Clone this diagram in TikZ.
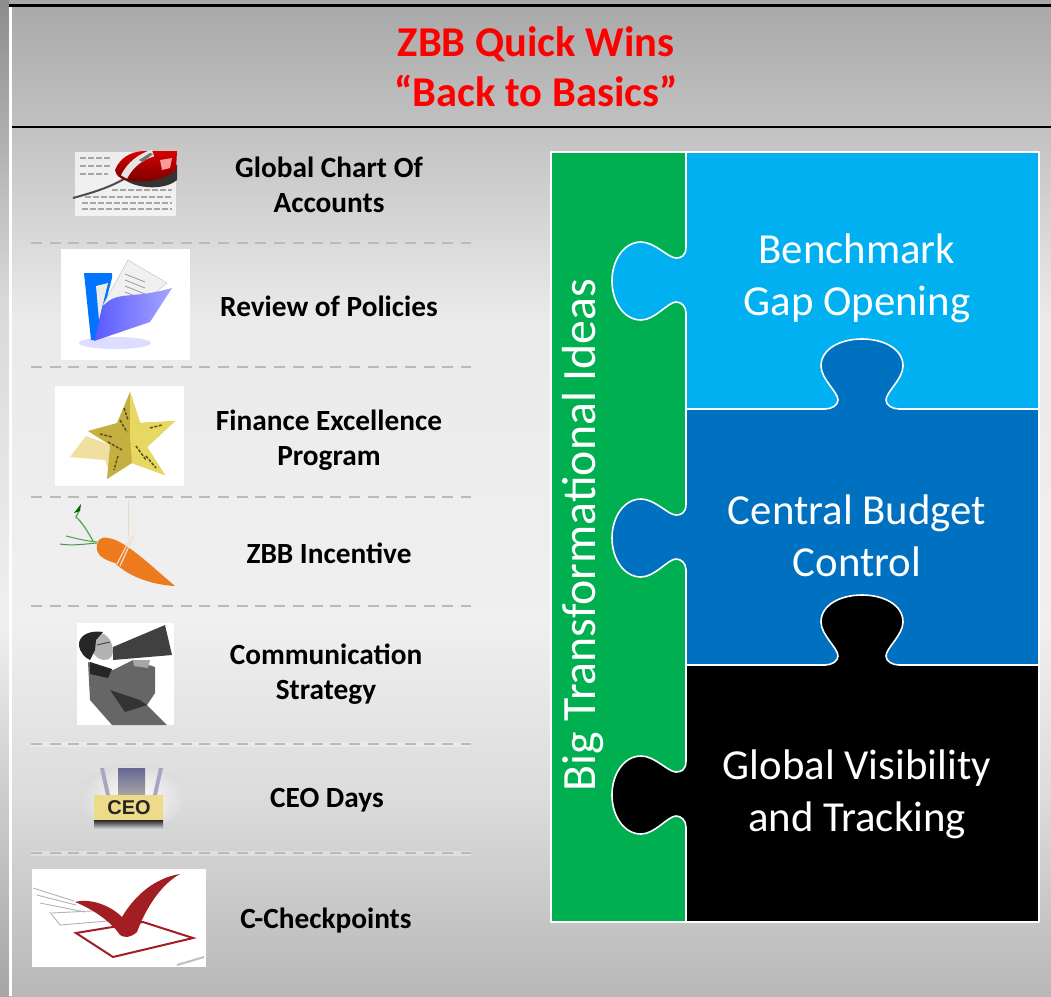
\documentclass[tikz,border=0pt]{standalone}
\usepackage{fontspec}
\setmainfont{Carlito}
\newfontfamily\platefont{Liberation Sans}
\usepackage{tikz}
\usetikzlibrary{calc,positioning}

\definecolor{zbbgreen}{HTML}{00B050}
\definecolor{zbbcyan}{HTML}{00B0F0}
\definecolor{zbbblue}{HTML}{0070C0}
\definecolor{zbbred}{HTML}{FF0000}
\definecolor{tickred}{HTML}{A31E22}
\definecolor{stargold}{HTML}{C4B040}
\definecolor{starlight}{HTML}{E6D860}
\definecolor{carrot}{HTML}{EE7A1E}

\tikzset{
  piece/.style={draw=white,line width=1.6pt,line join=round},
  tightwords/.style={execute at begin node={\spaceskip=.226em\relax}},
  itemtext/.style={text width=10cm,text centered,tightwords,font=\fontsize{29.3}{35}\selectfont\bfseries},
  titletext/.style={text width=14cm,text centered,tightwords,text=zbbred,font=\fontsize{42.5}{50}\selectfont\bfseries},
  puzzletext/.style={text width=11cm,text centered,tightwords,text=white,font=\fontsize{42.8}{52}\selectfont},
  sepline/.style={draw=black!27,line width=2pt,dash pattern=on 11pt off 7.7pt}
}

% tab on the left side of a puzzle piece, going down
\newcommand{\tableft}[1]{-- (686,#1-33)
  .. controls (686,#1-24) and (681,#1-22) .. (676,#1-22)
  .. controls (668,#1-22) and (655,#1-38) .. (641,#1-38)
  .. controls (624,#1-38) and (612,#1-20) .. (612,#1+1)
  .. controls (612,#1+22) and (624,#1+40) .. (641,#1+40)
  .. controls (655,#1+40) and (668,#1+22) .. (676,#1+22)
  .. controls (681,#1+22) and (686,#1+26) .. (686,#1+33)}
% tab on the top side of a puzzle piece, going left
\newcommand{\tabtop}[1]{-- (899,#1)
  .. controls (892,#1) and (886,#1-4) .. (886,#1-9)
  .. controls (886,#1-17) and (903,#1-30) .. (903,#1-43)
  .. controls (903,#1-60) and (884,#1-70) .. (862,#1-70)
  .. controls (840,#1-70) and (821,#1-60) .. (821,#1-43)
  .. controls (821,#1-30) and (838,#1-17) .. (838,#1-9)
  .. controls (838,#1-4) and (832,#1) .. (825,#1)}

\begin{document}
\begin{tikzpicture}[x=1pt,y=-1pt]
\useasboundingbox (0,0) rectangle (1051,996);

% background
\foreach \ya/\yb/\ca/\cb in {0/130/black!34/black!24, 129/320/black!24/black!8, 319/620/black!8/black!6, 619/800/black!6/black!14, 799/996/black!14/black!28}
  \shade [top color=\ca,bottom color=\cb] (0,\ya) rectangle (1051,\yb);
\foreach \ya/\yb/\ca/\cb in {0/300/black!45/black!15, 299/620/black!15/black!6, 619/996/black!6/black!35}
  \shade [top color=\ca,bottom color=\cb] (0,\ya) rectangle (9,\yb);
\fill [white] (9,7) rectangle (12,996);
\draw [line width=3pt] (9,5) -- (1051,5);
\draw [line width=2.5pt] (12,127) -- (1051,127);

% title
\node (title) [titletext] at (536,67) {ZBB Quick Wins\\“Back to Basics”};

% separators
\foreach \ypos in {744,853}
  \draw [white,opacity=.3,line width=5pt] (31,\ypos) -- (471,\ypos);
\foreach \ypos in {243,367,497,606,744,853}
  \draw [sepline] (31,\ypos) -- (471,\ypos);

% items
\node (chart) [itemtext] at (329,184.5) {Global Chart Of\\Accounts};
\node (review) [itemtext] at (329,306) {Review of Policies};
\node (finance) [itemtext] at (329,440) {Finance Excellence\\Program};
\node (incentive) [itemtext] at (329,553) {ZBB Incentive};
\node (comm) [itemtext] at (326,674.5) {Communication\\Strategy};
\node (ceodays) [itemtext] at (327,800.5) {CEO Days};
\node (check) [itemtext] at (326,920.5) {C-Checkpoints};

% mouse on a sheet
\fill [white,opacity=.7] (75,152) rectangle (176,216);
\foreach \ypos/\xa/\xb in {158/80/112,166/80/110,174/80/108,190/112/172,197/85/172,203/82/172,209/82/172}
  \draw [black!35,line width=1.2pt,dash pattern=on 6pt off 2pt] (\xa,\ypos) -- (\xb,\ypos);
\draw [black!70,line width=2pt] (73,198) .. controls (95,192) and (110,187) .. (124,179);
\fill [black!80] (118,172) .. controls (122,186) and (160,194) .. (177,180) -- (177,165) -- cycle;
\shade [top color=red!85!black,bottom color=red!45!black] (115,170) .. controls (120,158) and (130,152) .. (143,151) -- (177,151) -- (176,170) .. controls (165,180) and (145,184) .. (125,180) .. controls (120,178) and (116,176) .. cycle;
\draw [black!10,line width=7pt] (124,177) .. controls (130,165) and (140,157) .. (153,153);
\fill [black!55] (139,160) -- (150,153) -- (153,154) -- (143,162) -- cycle;
\fill [red!40!white] (160,160) -- (172,158) -- (170,168) -- (162,170) -- cycle;

% folder
\fill [white] (61,249) rectangle (190,360);
\fill [blue!22!white,opacity=.6] (115,343) ellipse (36 and 6);
\fill [blue!55!cyan] (84,273) -- (112,273) -- (112,278) -- (96,340) -- (91,340) -- cycle;
\fill [black!8] (96,286) -- (108,283) -- (99,320) -- cycle;
\draw [fill=black!6,draw=black!25] (103,305) -- (128,260) -- (167,283) -- (140,305) -- cycle;
\foreach \ypos in {268,274,280,286}
  \draw [black!40,line width=.8pt] (125,\ypos+6) -- (145,\ypos+14);
\shade [left color=blue!65!white,right color=blue!35!white] (94,341) -- (103,306) .. controls (118,290) and (130,300) .. (172,288) -- (150,322) -- cycle;

% star
\fill [white] (55,386) rectangle (184,486);
\fill [yellow!45!brown!45!white] (70,457) -- (86,436) -- (110,445) -- (108,468) -- (105,460) -- cycle;
\fill [stargold] (130,392) -- (140,423) -- (175,421) -- (147,447) -- (165,475) -- (132,463) -- (107,479) -- (110,445) -- (88,431) -- (117,423) -- cycle;
\fill [starlight] (130,437) -- (140,423) -- (175,421) -- (147,447) -- (165,475) -- (132,463) -- cycle;
\fill [starlight] (130,392) -- (130,437) -- (140,423) -- cycle;
\foreach \xa/\ya/\xb/\yb in {124/408/128/420,120/420/127/432,100/434/112/437,108/442/122/450,118/456/114/470,146/456/156/468,136/446/146/460,150/428/162/425}
  \draw [black!55!stargold,line width=1.5pt,dash pattern=on 3pt off 1.5pt] (\xa,\ya) -- (\xb,\yb);

% carrot on a string
\draw [brown!30!white,line width=1pt] (128,500) -- (128,537);
\draw [green!40!black!70,line width=1pt] (97,543) .. controls (85,544) and (72,546) .. (60,544);
\draw [green!50!black!70,line width=1pt] (97,542) .. controls (85,541) and (75,538) .. (66,536);
\draw [green!50!black!70,line width=1.2pt] (93,541) .. controls (88,532) and (82,522) .. (76,517) -- (79,511);
\fill [green!40!black] (74,513) -- (81,504) -- (80,511) -- cycle;
\fill [carrot] (97,550) .. controls (96,541) and (100,536) .. (108,538) .. controls (125,540) and (150,565) .. (175,586) .. controls (155,585) and (130,578) .. (115,563) .. controls (105,560) and (98,556) .. cycle;
\draw [brown!25!white,line width=1.2pt] (117,564) -- (131,537);
\draw [brown!25!white,line width=1.2pt] (120,566) -- (134,535);

% man with a megaphone
\fill [white] (77,623) rectangle (174,725);
\fill [black!60] (88,662) -- (113,670) -- (133,660) -- (155,667) -- (155,693) -- (147,705) -- (167,725) -- (112,725) -- (90,700) -- cycle;
\fill [black!85] (90,662) -- (112,669) -- (108,678) -- (90,674) -- cycle;
\fill [black!80] (110,690) -- (140,700) -- (147,705) -- (125,712) -- cycle;
\fill [black!30] (93,633) .. controls (105,630) and (113,640) .. (113,652) .. controls (112,660) and (105,662) .. (98,658) -- (90,650) -- cycle;
\fill [black!85] (79,646) .. controls (78,635) and (90,630) .. (103,632) -- (96,640) -- (95,650) -- (90,660) .. controls (85,658) and (80,652) .. cycle;
\draw [black!70,line width=1pt] (97,645) -- (110,642);
\fill [black!75] (113,647) -- (165,625) -- (172,655) -- (113,660) -- cycle;
\fill [black!35] (133,660) -- (150,660) -- (148,668) -- (134,666) -- cycle;

% ceo plate
\shade [inner color=white,outer color=black!14] (133,797) ellipse (52 and 33);
\shade [top color=black!70!blue!60,bottom color=black!35] (118,768) rectangle (145,795);
\fill [blue!30!black!35] (100,768) -- (104,768) -- (110,795) -- (106,795) -- cycle;
\fill [blue!30!black!35] (159,768) -- (163,768) -- (157,795) -- (153,795) -- cycle;
\fill [yellow!50!brown!55!white] (94,795) rectangle (163,820);
\shade [top color=black!85,bottom color=black!15] (94,820) rectangle (163,829);
\node (ceo) [text=black!85,font=\platefont\fontsize{20}{20}\selectfont\bfseries] at (129,808) {CEO};

% check box
\fill [white] (32,869) rectangle (206,967);
\foreach \xa/\ya/\xb/\yb in {33/888/74/901,37/895/76/905,40/903/85/912,52/913/110/910,60/925/108/921}
  \draw [black!30,line width=.9pt] (\xa,\ya) -- (\xb,\yb);
\draw [black!30,line width=.9pt] (50,912) -- (60,925);
\draw [black!25,line width=2pt] (177,965) -- (204,957);
\draw [tickred,line width=2pt] (76,933) -- (143,922) -- (193,938) -- (113,957) -- cycle;
\fill [tickred] (75,902) .. controls (90,898) and (110,905) .. (122,917) .. controls (135,895) and (155,878) .. (180,874) .. controls (160,885) and (145,910) .. (137,932) .. controls (130,938) and (125,938) .. (120,935) .. controls (110,920) and (90,908) .. cycle;

% puzzle
\draw [piece,fill=zbbgreen] (551,152) rectangle (686,922);
\draw [piece,fill=zbbcyan] (686,152) \tableft{280} -- (686,409) -- (1039,409) -- (1039,152) -- cycle;
\draw [piece,fill=zbbblue] (686,409) \tableft{537} -- (686,665) -- (1039,665) -- (1039,409) \tabtop{409} -- cycle;
\draw [piece,fill=black] (686,665) \tableft{794} -- (686,922) -- (1039,922) -- (1039,665) \tabtop{665} -- cycle;

\node (ideas) [rotate=90,text=white,font=\fontsize{47.8}{47.8}\selectfont] at (583,535) {Big Transformational Ideas};
\node (gap) [puzzletext] at (857,278) {Benchmark\\Gap Opening};
\node (budget) [puzzletext] at (857,536) {Central Budget\\Control};
\node (visibility) [puzzletext] at (857,794.5) {Global Visibility\\and Tracking};

\end{tikzpicture}
\end{document}
